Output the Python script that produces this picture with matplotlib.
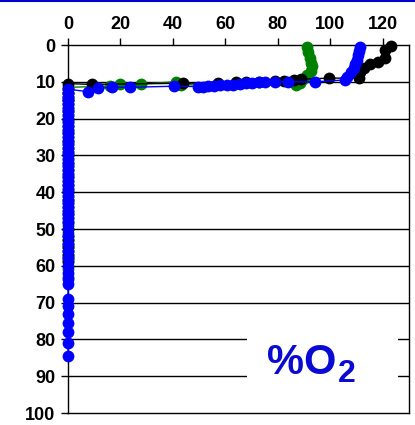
import matplotlib
matplotlib.use("Agg")
import matplotlib.pyplot as plt
from matplotlib.lines import Line2D
from matplotlib.patches import Rectangle

plt.rcParams['font.family'] = ['Liberation Sans', 'DejaVu Sans']

# Oxygen saturation (%) versus depth (m) for three profiles
black_o2 = [123, 121, 121, 118, 115, 113, 111.5, 111, 99.5, 89, 86, 82.5, 79, 73, 68, 64, 57, 44, 9, 0,
            0, 0, 0, 0, 0, 0, 0, 0, 0, 0, 0, 0, 0, 0, 0, 0, 0, 0, 0, 0, 0, 0, 0, 0, 0, 0, 0, 0, 0, 0]
black_depth = [0.3, 1.4, 3.5, 4.5, 5.2, 6.3, 7.3, 9.0, 9.0, 9.3, 9.5, 9.8, 9.8, 10.0, 10.0, 10.1, 10.3, 10.4, 10.7, 10.5,
               12, 13, 14, 15, 16, 18, 20, 22, 24, 26, 28, 30, 32, 34, 36, 38, 40, 42, 44, 46, 48, 50, 52,
               53, 54, 55, 56, 57, 58, 58.6]

green_o2 = [91, 91.5, 92.3, 92.8, 93, 92.5, 91, 89.5, 88.6, 87, 43, 41, 28, 19.7, 16, 0,
            0, 0, 0, 0, 0, 0, 0, 0, 0, 0, 0, 0, 0, 0, 0, 0, 0, 0, 0, 0, 0, 0, 0, 0, 0, 0]
green_depth = [0.5, 1.8, 3.6, 4.8, 5.8, 7.0, 8.2, 9.3, 10.3, 11.0, 10.8, 10.0, 10.6, 10.6, 11.2, 11.5,
               13, 15, 17, 19, 21, 23, 25, 27, 29, 31, 33, 35, 37, 39, 41, 43, 45, 47, 49, 51,
               53, 55, 57, 59, 61, 63]

blue_o2 = [111.5, 111, 110.5, 110, 109.5, 109, 108, 106.5, 105.5, 94, 84, 79, 75, 73, 70, 68, 65.5, 63, 60.5, 58,
           55.5, 53.5, 51.5, 49.5, 40.6, 23.5, 16.6, 11.5, 7.7, 0,
           0, 0, 0, 0, 0, 0, 0, 0, 0, 0, 0, 0, 0, 0, 0, 0, 0, 0, 0, 0, 0, 0, 0, 0, 0, 0, 0, 0, 0, 0,
           0, 0, 0, 0, 0, 0, 0, 0, 0, 0, 0, 0, 0, 0, 0, 0, 0, 0, 0, 0, 0, 0]
blue_depth = [0.5, 1.5, 2.8, 4.0, 5.2, 6.3, 7.3, 8.6, 9.5, 10.0, 10.0, 10.0, 10.0, 10.0, 10.2, 10.4, 10.6, 10.8, 11.0, 11.0,
              11.1, 11.2, 11.3, 11.3, 11.2, 11.5, 11.5, 11.8, 12.7, 12.0,
              13, 14, 15, 16, 17, 18, 19, 20, 21, 22, 23, 24, 25, 26, 27, 28, 29, 30, 31, 32, 33, 34, 35,
              36, 37, 38, 39, 40, 41, 42, 43, 44, 45, 46, 47, 48, 50, 52, 54, 56, 58, 60, 62, 63.5, 65,
              69, 71, 73, 75.5, 78, 81, 84.5]

x_ticks = [0, 20, 40, 60, 80, 100, 120]
y_ticks = [0, 10, 20, 30, 40, 50, 60, 70, 80, 90, 100]

fig = plt.figure(figsize=(4.15, 4.25), dpi=100)
ax = fig.add_axes([68 / 415, 12 / 425, 341 / 415, 368 / 425])

for yv in y_ticks[1:-1]:
    ax.axhline(yv, color='black', lw=1.0, zorder=1)

marker_kw = dict(marker='o', markersize=8.5, lw=1.0, markeredgewidth=0, clip_on=False)
ax.plot(green_o2, green_depth, color='#008000', zorder=3, **marker_kw)
ax.plot(black_o2, black_depth, color='black', zorder=4, **marker_kw)
ax.plot(blue_o2, blue_depth, color='#0000ff', zorder=5, **marker_kw)

ax.set_xlim(0, 130)
ax.set_ylim(100, 0)
ax.set_xticks(x_ticks)
ax.set_yticks(y_ticks)
ax.xaxis.tick_top()
ax.tick_params(axis='both', direction='out', length=5, width=1, labelsize=13, pad=4)
for lbl in ax.get_xticklabels() + ax.get_yticklabels():
    lbl.set_fontweight('bold')
for sp in ax.spines.values():
    sp.set_linewidth(1.0)

# label panel
ax.add_patch(Rectangle((68.4, 72), 57.3, 26, facecolor='white', edgecolor='none', zorder=6))
ax.text(0.585, 0.106, '%O', transform=ax.transAxes, fontsize=30, fontweight='bold',
        color='#0a0ad2', ha='left', va='baseline', zorder=7)
ax.text(0.792, 0.084, '2', transform=ax.transAxes, fontsize=23, fontweight='bold',
        color='#0a0ad2', ha='left', va='baseline', zorder=7)

fig.add_artist(Line2D([0, 1], [1 - 1 / 425, 1 - 1 / 425], transform=fig.transFigure,
                      color='#0000cc', lw=1.5))

fig.savefig('out.png', dpi=100)
